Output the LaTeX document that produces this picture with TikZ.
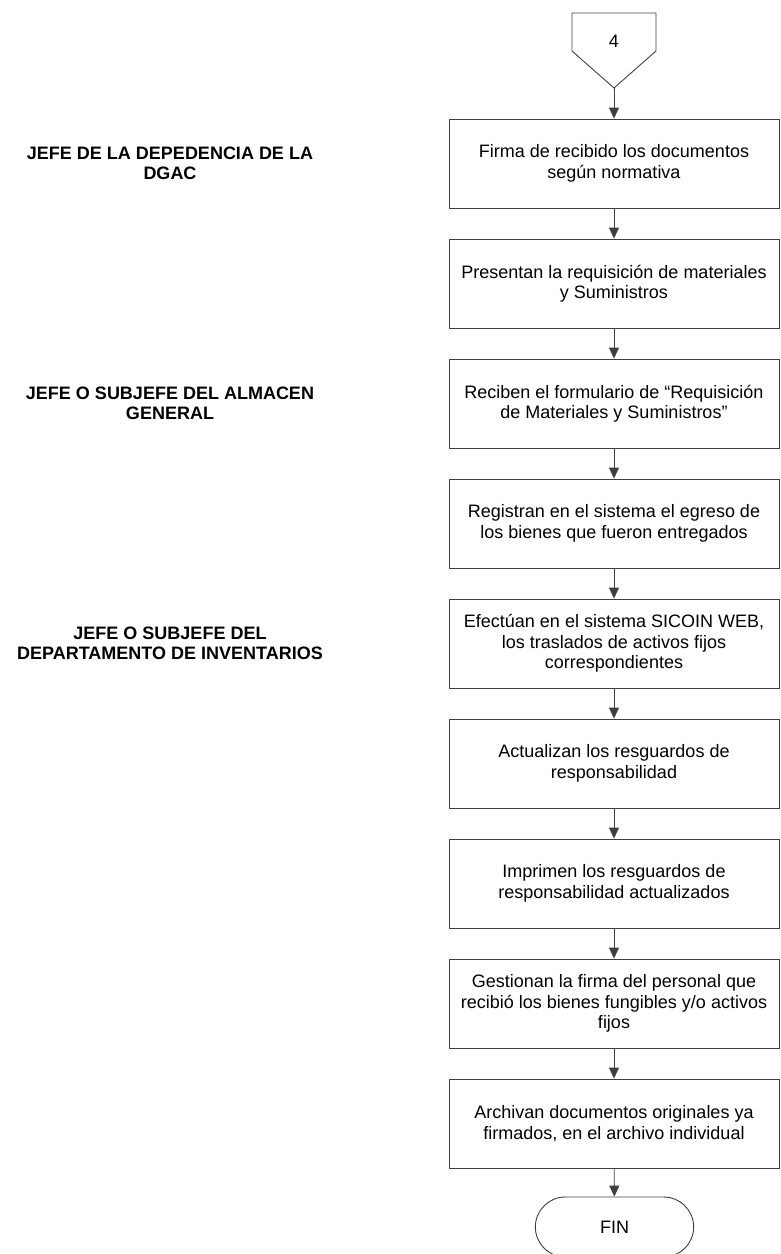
\documentclass[tikz,border=0pt]{standalone}
\usepackage{fontspec}
\setmainfont{Liberation Sans}
\usetikzlibrary{arrows.meta,shapes.misc}
\begin{document}
\begin{tikzpicture}[x=1pt,y=-1pt,
  every node/.style={font=\fontsize{18}{20.5}\selectfont},
  procbox/.style={draw=black!75,line width=0.9pt,minimum width=330pt,minimum height=89pt,
    align=center,inner sep=0pt},
  rolelabel/.style={align=center,font=\fontsize{18}{20}\selectfont\bfseries},
  flow/.style={draw=black!75,line width=0.9pt,-{Triangle[width=10pt,length=11pt]}},
  endcap/.style={draw=black!75,line width=0.9pt,rounded rectangle,minimum width=165pt,minimum height=60pt}]
\useasboundingbox (0,0) rectangle (780,1254);

% off-page connector
\draw[draw=black!75,line width=0.9pt] (572,13) -- (656,13) -- (656,51) -- (614,88) -- (572,51) -- cycle;
\node (c4) at (614,41) {4};
\coordinate (c4tip) at (614,88);

% responsible roles
\node[rolelabel] (r1) at (170,163.5) {JEFE DE LA DEPEDENCIA DE LA\\DGAC};
\node[rolelabel] (r2) at (170,403.5) {JEFE O SUBJEFE DEL ALMACEN\\GENERAL};
\node[rolelabel] (r3) at (170,643.5) {JEFE O SUBJEFE DEL\\DEPARTAMENTO DE INVENTARIOS};

% process steps
\node[procbox] (b1) at (614,163.5) {Firma de recibido los documentos\\según normativa};
\node[procbox] (b2) at (614,283.5) {Presentan la requisición de materiales\\y Suministros};
\node[procbox] (b3) at (614,403.5) {Reciben el formulario de “Requisición\\de Materiales y Suministros”};
\node[procbox] (b4) at (614,523.5) {Registran en el sistema el egreso de\\los bienes que fueron entregados};
\node[procbox] (b5) at (614,643.5) {Efectúan en el sistema SICOIN WEB,\\los traslados de activos fijos\\correspondientes};
\node[procbox] (b6) at (614,763.5) {Actualizan los resguardos de\\responsabilidad};
\node[procbox] (b7) at (614,883.5) {Imprimen los resguardos de\\responsabilidad actualizados};
\node[procbox] (b8) at (614,1003.5) {Gestionan la firma del personal que\\recibió los bienes fungibles y/o activos\\fijos};
\node[procbox] (b9) at (614,1123.5) {Archivan documentos originales ya\\firmados, en el archivo individual};
\node[endcap] (fin) at (614.5,1227) {FIN};

% connectors
\draw[flow] (c4tip) -- (b1.north);
\draw[flow] (b1) -- (b2);
\draw[flow] (b2) -- (b3);
\draw[flow] (b3) -- (b4);
\draw[flow] (b4) -- (b5);
\draw[flow] (b5) -- (b6);
\draw[flow] (b6) -- (b7);
\draw[flow] (b7) -- (b8);
\draw[flow] (b8) -- (b9);
\draw[flow] (b9) -- (fin);
\end{tikzpicture}
\end{document}
